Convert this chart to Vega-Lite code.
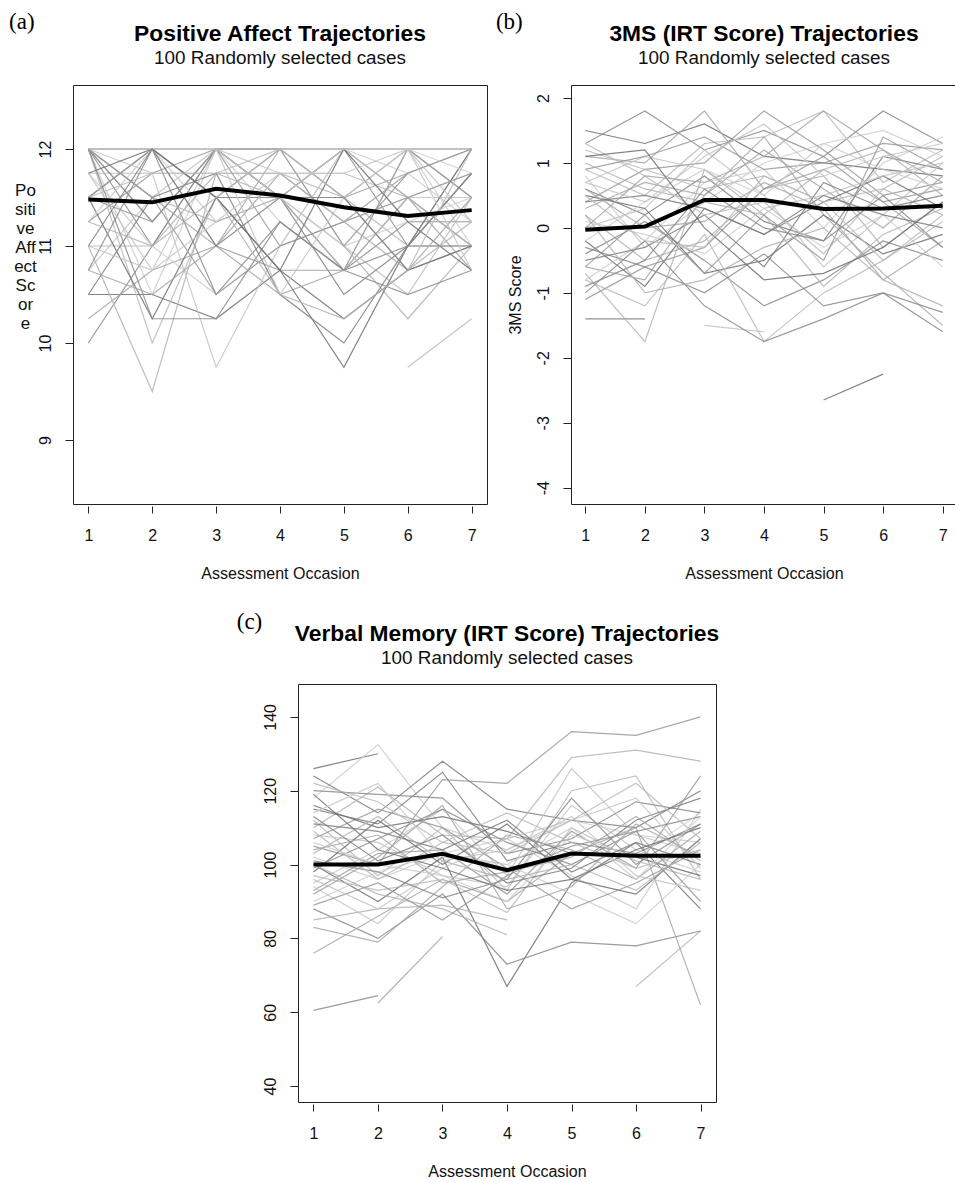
{
"$schema": "https://vega.github.io/schema/vega-lite/v6.json",
"padding": {"left": 8, "top": 10, "right": 0, "bottom": 0},
"background": "white",
"config": {
 "font": "Liberation Sans",
 "view": {"stroke": "#222", "strokeWidth": 1},
 "axis": {"grid": false, "domain": false, "tickColor": "#222", "labelColor": "#111", "titleColor": "#111", "labelFont": "Liberation Sans", "titleFont": "Liberation Sans", "labelFontSize": 16, "titleFontSize": 16, "titleFontWeight": "normal"},
 "title": {"font": "Liberation Sans", "fontSize": 22.8, "fontWeight": "bold", "color": "#000", "subtitleFont": "Liberation Sans", "subtitleFontSize": 18.9, "subtitleColor": "#111", "subtitlePadding": 0, "offset": -57, "anchor": "middle"}
},
"datasets": {
 "pa": [
  {"i":1,"t":1,"v":12},{"i":1,"t":2,"v":12},{"i":1,"t":3,"v":12},{"i":1,"t":4,"v":12},{"i":1,"t":5,"v":12},{"i":1,"t":6,"v":12},{"i":1,"t":7,"v":12},
  {"i":2,"t":1,"v":12},{"i":2,"t":2,"v":11},{"i":2,"t":3,"v":12},{"i":2,"t":4,"v":11.5},{"i":2,"t":5,"v":12},{"i":2,"t":6,"v":11},{"i":2,"t":7,"v":12},
  {"i":3,"t":1,"v":12},{"i":3,"t":2,"v":11.5},{"i":3,"t":3,"v":11},{"i":3,"t":4,"v":12},{"i":3,"t":5,"v":11.5},{"i":3,"t":6,"v":12},{"i":3,"t":7,"v":11.5},
  {"i":4,"t":1,"v":11.75},{"i":4,"t":2,"v":11.75},{"i":4,"t":3,"v":11.75},{"i":4,"t":4,"v":11.75},{"i":4,"t":5,"v":11.75},{"i":4,"t":6,"v":11.5},{"i":4,"t":7,"v":11.75},
  {"i":5,"t":1,"v":12},{"i":5,"t":2,"v":10.5},{"i":5,"t":3,"v":12},{"i":5,"t":4,"v":11.25},{"i":5,"t":5,"v":10.75},{"i":5,"t":6,"v":12},{"i":5,"t":7,"v":11},
  {"i":6,"t":1,"v":11.5},{"i":6,"t":2,"v":12},{"i":6,"t":3,"v":11.5},{"i":6,"t":4,"v":11.5},{"i":6,"t":5,"v":12},{"i":6,"t":6,"v":11.5},{"i":6,"t":7,"v":11},
  {"i":7,"t":1,"v":11.25},{"i":7,"t":2,"v":11.75},{"i":7,"t":3,"v":12},{"i":7,"t":4,"v":11},{"i":7,"t":5,"v":11.25},{"i":7,"t":6,"v":11.75},{"i":7,"t":7,"v":12},
  {"i":8,"t":1,"v":11},{"i":8,"t":2,"v":11},{"i":8,"t":3,"v":11.75},{"i":8,"t":4,"v":11.75},{"i":8,"t":5,"v":11.5},{"i":8,"t":6,"v":11},{"i":8,"t":7,"v":11},
  {"i":9,"t":1,"v":10.75},{"i":9,"t":2,"v":11.5},{"i":9,"t":3,"v":12},{"i":9,"t":4,"v":11.75},{"i":9,"t":5,"v":11.25},{"i":9,"t":6,"v":11.5},{"i":9,"t":7,"v":11.5},
  {"i":10,"t":1,"v":10.5},{"i":10,"t":2,"v":10.5},{"i":10,"t":3,"v":10.25},{"i":10,"t":4,"v":10.75},{"i":10,"t":5,"v":10.25},{"i":10,"t":6,"v":10.75},{"i":10,"t":7,"v":11},
  {"i":11,"t":1,"v":10},{"i":11,"t":2,"v":11},{"i":11,"t":3,"v":12},{"i":11,"t":4,"v":11.5},{"i":11,"t":5,"v":10.75},{"i":11,"t":6,"v":11.25},{"i":11,"t":7,"v":11.25},
  {"i":12,"t":1,"v":10.25},{"i":12,"t":2,"v":10.75},{"i":12,"t":3,"v":11},{"i":12,"t":4,"v":10.5},{"i":12,"t":5,"v":10.75},{"i":12,"t":6,"v":11.5},{"i":12,"t":7,"v":10.75},
  {"i":13,"t":1,"v":12},{"i":13,"t":2,"v":10},{"i":13,"t":3,"v":11.5},{"i":13,"t":4,"v":12},{"i":13,"t":5,"v":11},{"i":13,"t":6,"v":10.5},{"i":13,"t":7,"v":11.5},
  {"i":14,"t":1,"v":11.75},{"i":14,"t":2,"v":11},{"i":14,"t":3,"v":10.5},{"i":14,"t":4,"v":11},{"i":14,"t":5,"v":12},{"i":14,"t":6,"v":11.75},{"i":14,"t":7,"v":11.25},
  {"i":15,"t":1,"v":12},{"i":15,"t":2,"v":11.25},{"i":15,"t":3,"v":12},{"i":15,"t":4,"v":11.5},{"i":15,"t":5,"v":10.5},{"i":15,"t":6,"v":11},{"i":15,"t":7,"v":12},
  {"i":16,"t":1,"v":11.5},{"i":16,"t":2,"v":12},{"i":16,"t":3,"v":11},{"i":16,"t":4,"v":10.75},{"i":16,"t":5,"v":10.75},{"i":16,"t":6,"v":12},{"i":16,"t":7,"v":11.5},
  {"i":17,"t":1,"v":11},{"i":17,"t":2,"v":9.5},{"i":17,"t":3,"v":11.75},{"i":17,"t":4,"v":11.5},{"i":17,"t":5,"v":11},{"i":17,"t":6,"v":10.25},{"i":17,"t":7,"v":11},
  {"i":18,"t":1,"v":12},{"i":18,"t":2,"v":11.75},{"i":18,"t":3,"v":9.75},{"i":18,"t":4,"v":11},{"i":18,"t":5,"v":12},{"i":18,"t":6,"v":11.5},{"i":18,"t":7,"v":11},
  {"i":19,"t":1,"v":11.5},{"i":19,"t":2,"v":10.25},{"i":19,"t":3,"v":11.5},{"i":19,"t":4,"v":10.75},{"i":19,"t":5,"v":9.75},{"i":19,"t":6,"v":11},{"i":19,"t":7,"v":11.75},
  {"i":20,"t":1,"v":10.75},{"i":20,"t":2,"v":12},{"i":20,"t":3,"v":10.5},{"i":20,"t":4,"v":11.25},{"i":20,"t":5,"v":10.75},{"i":20,"t":6,"v":10.5},{"i":20,"t":7,"v":10.75},
  {"i":21,"t":1,"v":12},{"i":21,"t":2,"v":12},{"i":21,"t":3,"v":11.5},{"i":21,"t":4,"v":12},{"i":21,"t":5,"v":11.5},{"i":21,"t":6,"v":11.75},
  {"i":22,"t":6,"v":9.75},{"i":22,"t":7,"v":10.25},
  {"i":23,"t":1,"v":11.25},{"i":23,"t":2,"v":12},{"i":23,"t":3,"v":11.25},{"i":23,"t":4,"v":11.5},{"i":23,"t":5,"v":11},{"i":23,"t":6,"v":11.25},{"i":23,"t":7,"v":11.5},
  {"i":24,"t":1,"v":10.5},{"i":24,"t":2,"v":11.5},{"i":24,"t":3,"v":11.75},{"i":24,"t":4,"v":10.5},{"i":24,"t":5,"v":10},{"i":24,"t":6,"v":11},{"i":24,"t":7,"v":11},
  {"i":25,"t":1,"v":11.5},{"i":25,"t":2,"v":11.25},{"i":25,"t":3,"v":12},{"i":25,"t":4,"v":12},{"i":25,"t":5,"v":11},{"i":25,"t":6,"v":11.75},{"i":25,"t":7,"v":12},
  {"i":26,"t":1,"v":12},{"i":26,"t":2,"v":11.5},{"i":26,"t":3,"v":11.25},{"i":26,"t":4,"v":11.5},{"i":26,"t":5,"v":10.75},{"i":26,"t":6,"v":11.5},{"i":26,"t":7,"v":11},
  {"i":27,"t":1,"v":11},{"i":27,"t":2,"v":10.75},{"i":27,"t":3,"v":12},{"i":27,"t":4,"v":10.5},{"i":27,"t":5,"v":11.5},{"i":27,"t":6,"v":12},{"i":27,"t":7,"v":11.25},
  {"i":28,"t":1,"v":11.75},{"i":28,"t":2,"v":12},{"i":28,"t":3,"v":11.5},{"i":28,"t":4,"v":10.75},{"i":28,"t":5,"v":12},{"i":28,"t":6,"v":11.25},{"i":28,"t":7,"v":10.75},
  {"i":29,"t":1,"v":12},{"i":29,"t":2,"v":10.25},{"i":29,"t":3,"v":10.25},{"i":29,"t":4,"v":11.25},{"i":29,"t":5,"v":10.75},{"i":29,"t":6,"v":11},{"i":29,"t":7,"v":11.75},
  {"i":30,"t":1,"v":10.75},{"i":30,"t":2,"v":10.5},{"i":30,"t":3,"v":11},{"i":30,"t":4,"v":11.75},{"i":30,"t":5,"v":11.25},{"i":30,"t":6,"v":10.75},{"i":30,"t":7,"v":11.5},
  {"i":31,"t":1,"v":11.5},{"i":31,"t":2,"v":11.75},{"i":31,"t":3,"v":11.75},{"i":31,"t":4,"v":12},{"i":31,"t":5,"v":11.5},{"i":31,"t":6,"v":10.75},{"i":31,"t":7,"v":12},
  {"i":32,"t":1,"v":12},{"i":32,"t":2,"v":12},{"i":32,"t":3,"v":12},{"i":32,"t":4,"v":11.5},{"i":32,"t":5,"v":12},{"i":32,"t":6,"v":12},{"i":32,"t":7,"v":11.75},
  {"i":33,"t":1,"v":11},{"i":33,"t":2,"v":12},{"i":33,"t":3,"v":11},{"i":33,"t":4,"v":11.5},{"i":33,"t":5,"v":11.5},{"i":33,"t":6,"v":10.75},{"i":33,"t":7,"v":11},
  {"i":34,"t":1,"v":12},{"i":34,"t":2,"v":11.5},{"i":34,"t":3,"v":10.5},{"i":34,"t":4,"v":11},{"i":34,"t":5,"v":11.25},{"i":34,"t":6,"v":11.5},{"i":34,"t":7,"v":11.75},
  {"i":35,"t":1,"v":11.25},{"i":35,"t":2,"v":11},{"i":35,"t":3,"v":11.5},{"i":35,"t":4,"v":10.5},{"i":35,"t":5,"v":10.25},{"i":35,"t":6,"v":10.75},{"i":35,"t":7,"v":11.25},
  {"i":36,"t":1,"v":11.75},{"i":36,"t":2,"v":10.75},{"i":36,"t":3,"v":11.25},{"i":36,"t":4,"v":11.75},{"i":36,"t":5,"v":11.75},{"i":36,"t":6,"v":12},{"i":36,"t":7,"v":10.75}
 ],
 "pb": [
  {"i":1,"t":1,"v":1.5},{"i":1,"t":2,"v":1.3},{"i":1,"t":3,"v":1.6},{"i":1,"t":4,"v":1.1},{"i":1,"t":5,"v":1.0},{"i":1,"t":6,"v":0.9},{"i":1,"t":7,"v":0.8},
  {"i":2,"t":1,"v":1.3},{"i":2,"t":2,"v":1.8},{"i":2,"t":3,"v":1.2},{"i":2,"t":4,"v":1.5},{"i":2,"t":5,"v":1.1},{"i":2,"t":6,"v":1.8},{"i":2,"t":7,"v":1.3},
  {"i":3,"t":1,"v":1.1},{"i":3,"t":2,"v":1.0},{"i":3,"t":3,"v":1.8},{"i":3,"t":4,"v":0.6},{"i":3,"t":5,"v":0.9},{"i":3,"t":6,"v":0.4},{"i":3,"t":7,"v":-0.3},
  {"i":4,"t":1,"v":0.9},{"i":4,"t":2,"v":0.5},{"i":4,"t":3,"v":1.3},{"i":4,"t":4,"v":1.4},{"i":4,"t":5,"v":1.8},{"i":4,"t":6,"v":0.7},{"i":4,"t":7,"v":1.2},
  {"i":5,"t":1,"v":0.8},{"i":5,"t":2,"v":-0.3},{"i":5,"t":3,"v":0.4},{"i":5,"t":4,"v":1.0},{"i":5,"t":5,"v":1.3},{"i":5,"t":6,"v":1.5},{"i":5,"t":7,"v":1.1},
  {"i":6,"t":1,"v":0.6},{"i":6,"t":2,"v":0.2},{"i":6,"t":3,"v":0.8},{"i":6,"t":4,"v":0.1},{"i":6,"t":5,"v":-0.2},{"i":6,"t":6,"v":1.1},{"i":6,"t":7,"v":0.9},
  {"i":7,"t":1,"v":0.4},{"i":7,"t":2,"v":0.9},{"i":7,"t":3,"v":1.0},{"i":7,"t":4,"v":1.8},{"i":7,"t":5,"v":1.2},{"i":7,"t":6,"v":0.5},{"i":7,"t":7,"v":0.7},
  {"i":8,"t":1,"v":0.2},{"i":8,"t":2,"v":-0.5},{"i":8,"t":3,"v":-0.2},{"i":8,"t":4,"v":0.6},{"i":8,"t":5,"v":0.8},{"i":8,"t":6,"v":-0.3},{"i":8,"t":7,"v":0.4},
  {"i":9,"t":1,"v":0.0},{"i":9,"t":2,"v":0.3},{"i":9,"t":3,"v":1.2},{"i":9,"t":4,"v":0.5},{"i":9,"t":5,"v":-0.6},{"i":9,"t":6,"v":0.2},{"i":9,"t":7,"v":1.0},
  {"i":10,"t":1,"v":-0.2},{"i":10,"t":2,"v":-0.9},{"i":10,"t":3,"v":0.3},{"i":10,"t":4,"v":-0.1},{"i":10,"t":5,"v":0.4},{"i":10,"t":6,"v":0.8},{"i":10,"t":7,"v":0.3},
  {"i":11,"t":1,"v":-0.4},{"i":11,"t":2,"v":0.1},{"i":11,"t":3,"v":-0.5},{"i":11,"t":4,"v":-1.2},{"i":11,"t":5,"v":-0.8},{"i":11,"t":6,"v":-0.2},{"i":11,"t":7,"v":-0.5},
  {"i":12,"t":1,"v":-0.6},{"i":12,"t":2,"v":-0.8},{"i":12,"t":3,"v":0.5},{"i":12,"t":4,"v":1.4},{"i":12,"t":5,"v":0.2},{"i":12,"t":6,"v":-0.7},{"i":12,"t":7,"v":-1.5},
  {"i":13,"t":1,"v":-0.8},{"i":13,"t":2,"v":-1.2},{"i":13,"t":3,"v":-0.1},{"i":13,"t":4,"v":-1.75},{"i":13,"t":5,"v":-1.0},{"i":13,"t":6,"v":-0.5},{"i":13,"t":7,"v":0.2},
  {"i":14,"t":1,"v":-0.8},{"i":14,"t":2,"v":-0.2},{"i":14,"t":3,"v":0.7},{"i":14,"t":4,"v":0.9},{"i":14,"t":5,"v":0.0},{"i":14,"t":6,"v":1.0},{"i":14,"t":7,"v":1.4},
  {"i":15,"t":1,"v":-1.4},{"i":15,"t":2,"v":-1.4},
  {"i":16,"t":1,"v":-1.1},{"i":16,"t":2,"v":-0.6},{"i":16,"t":3,"v":-0.3},{"i":16,"t":4,"v":0.6},{"i":16,"t":5,"v":1.1},{"i":16,"t":6,"v":0.4},{"i":16,"t":7,"v":0.6},
  {"i":17,"t":1,"v":1.0},{"i":17,"t":2,"v":0.6},{"i":17,"t":3,"v":0.4},{"i":17,"t":4,"v":0.2},{"i":17,"t":5,"v":0.9},{"i":17,"t":6,"v":1.2},{"i":17,"t":7,"v":0.5},
  {"i":18,"t":1,"v":0.7},{"i":18,"t":2,"v":1.1},{"i":18,"t":3,"v":0.9},{"i":18,"t":4,"v":0.3},{"i":18,"t":5,"v":0.5},{"i":18,"t":6,"v":0.8},{"i":18,"t":7,"v":1.0},
  {"i":19,"t":1,"v":0.5},{"i":19,"t":2,"v":0.3},{"i":19,"t":3,"v":-0.7},{"i":19,"t":4,"v":-0.5},{"i":19,"t":5,"v":0.2},{"i":19,"t":6,"v":-0.4},{"i":19,"t":7,"v":-0.1},
  {"i":20,"t":1,"v":-0.3},{"i":20,"t":2,"v":-0.6},{"i":20,"t":3,"v":-1.0},{"i":20,"t":4,"v":-0.4},{"i":20,"t":5,"v":-1.2},{"i":20,"t":6,"v":-1.0},{"i":20,"t":7,"v":-1.3},
  {"i":21,"t":1,"v":0.3},{"i":21,"t":2,"v":0.7},{"i":21,"t":3,"v":0.5},{"i":21,"t":4,"v":1.2},{"i":21,"t":5,"v":0.6},{"i":21,"t":6,"v":0.0},{"i":21,"t":7,"v":0.8},
  {"i":22,"t":1,"v":1.2},{"i":22,"t":2,"v":0.9},{"i":22,"t":3,"v":0.6},{"i":22,"t":4,"v":0.8},{"i":22,"t":5,"v":0.4},{"i":22,"t":6,"v":0.6},{"i":22,"t":7,"v":0.2},
  {"i":23,"t":1,"v":0.1},{"i":23,"t":2,"v":-0.1},{"i":23,"t":3,"v":-0.4},{"i":23,"t":4,"v":0.3},{"i":23,"t":5,"v":-0.3},{"i":23,"t":6,"v":0.2},{"i":23,"t":7,"v":-0.6},
  {"i":24,"t":1,"v":-0.5},{"i":24,"t":2,"v":-0.3},{"i":24,"t":3,"v":0.2},{"i":24,"t":4,"v":-0.6},{"i":24,"t":5,"v":0.7},{"i":24,"t":6,"v":0.3},{"i":24,"t":7,"v":0.5},
  {"i":25,"t":1,"v":0.9},{"i":25,"t":2,"v":1.1},{"i":25,"t":3,"v":1.4},{"i":25,"t":4,"v":0.9},{"i":25,"t":5,"v":1.0},{"i":25,"t":6,"v":1.3},{"i":25,"t":7,"v":1.2},
  {"i":26,"t":1,"v":-0.7},{"i":26,"t":2,"v":-1.75},{"i":26,"t":3,"v":0.9},{"i":26,"t":4,"v":0.2},{"i":26,"t":5,"v":-0.9},{"i":26,"t":6,"v":-0.1},{"i":26,"t":7,"v":0.3},
  {"i":27,"t":3,"v":-1.5},{"i":27,"t":4,"v":-1.6},
  {"i":28,"t":5,"v":-2.65},{"i":28,"t":6,"v":-2.25},
  {"i":29,"t":1,"v":-1.0},{"i":29,"t":2,"v":-0.2},{"i":29,"t":3,"v":-1.2},{"i":29,"t":4,"v":-1.75},{"i":29,"t":5,"v":-1.4},{"i":29,"t":6,"v":-1.0},{"i":29,"t":7,"v":-1.6},
  {"i":30,"t":1,"v":0.6},{"i":30,"t":2,"v":0.0},{"i":30,"t":3,"v":0.1},{"i":30,"t":4,"v":0.7},{"i":30,"t":5,"v":0.3},{"i":30,"t":6,"v":-0.8},{"i":30,"t":7,"v":-0.2},
  {"i":31,"t":1,"v":1.3},{"i":31,"t":2,"v":0.8},{"i":31,"t":3,"v":0.2},{"i":31,"t":4,"v":0.4},{"i":31,"t":5,"v":-0.4},{"i":31,"t":6,"v":0.6},{"i":31,"t":7,"v":1.1},
  {"i":32,"t":1,"v":-0.2},{"i":32,"t":2,"v":0.4},{"i":32,"t":3,"v":0.9},{"i":32,"t":4,"v":0.5},{"i":32,"t":5,"v":1.3},{"i":32,"t":6,"v":0.9},{"i":32,"t":7,"v":0.6},
  {"i":33,"t":1,"v":0.4},{"i":33,"t":2,"v":0.5},{"i":33,"t":3,"v":0.3},{"i":33,"t":4,"v":-0.1},{"i":33,"t":5,"v":0.5},{"i":33,"t":6,"v":0.2},{"i":33,"t":7,"v":0.0},
  {"i":34,"t":1,"v":-0.6},{"i":34,"t":2,"v":0.2},{"i":34,"t":3,"v":-0.7},{"i":34,"t":4,"v":0.2},{"i":34,"t":5,"v":-0.5},{"i":34,"t":6,"v":1.4},{"i":34,"t":7,"v":0.9},
  {"i":35,"t":1,"v":0.2},{"i":35,"t":2,"v":-1.0},{"i":35,"t":3,"v":-0.8},{"i":35,"t":4,"v":-0.3},{"i":35,"t":5,"v":0.0},{"i":35,"t":6,"v":-0.8},{"i":35,"t":7,"v":-1.2},
  {"i":36,"t":1,"v":0.7},{"i":36,"t":2,"v":0.4},{"i":36,"t":3,"v":1.1},{"i":36,"t":4,"v":1.6},{"i":36,"t":5,"v":0.8},{"i":36,"t":6,"v":1.1},{"i":36,"t":7,"v":1.3},
  {"i":37,"t":1,"v":1.1},{"i":37,"t":2,"v":1.2},{"i":37,"t":3,"v":0.0},{"i":37,"t":4,"v":-0.8},{"i":37,"t":5,"v":-0.7},{"i":37,"t":6,"v":-0.3},{"i":37,"t":7,"v":0.4},
  {"i":38,"t":1,"v":-0.9},{"i":38,"t":2,"v":-0.5},{"i":38,"t":3,"v":0.6},{"i":38,"t":4,"v":0.0},{"i":38,"t":5,"v":-0.2},{"i":38,"t":6,"v":0.5},{"i":38,"t":7,"v":-0.3},
  {"i":39,"t":1,"v":0.0},{"i":39,"t":2,"v":0.8},{"i":39,"t":3,"v":0.7},{"i":39,"t":4,"v":1.1},{"i":39,"t":5,"v":1.8},{"i":39,"t":6,"v":1.2},{"i":39,"t":7,"v":0.7},
  {"i":40,"t":1,"v":0.5},{"i":40,"t":2,"v":-0.2},{"i":40,"t":3,"v":-0.3},{"i":40,"t":4,"v":0.8},{"i":40,"t":5,"v":0.4},{"i":40,"t":6,"v":-0.5},{"i":40,"t":7,"v":0.1}
 ],
 "pc": [
  {"i":1,"t":1,"v":126},{"i":1,"t":2,"v":130},
  {"i":2,"t":1,"v":60.5},{"i":2,"t":2,"v":64.5},
  {"i":3,"t":2,"v":62.5},{"i":3,"t":3,"v":80.5},
  {"i":4,"t":6,"v":67},{"i":4,"t":7,"v":82},
  {"i":5,"t":1,"v":118},{"i":5,"t":2,"v":132.5},{"i":5,"t":3,"v":110},{"i":5,"t":4,"v":104},{"i":5,"t":5,"v":112},{"i":5,"t":6,"v":108},{"i":5,"t":7,"v":106},
  {"i":6,"t":1,"v":124},{"i":6,"t":2,"v":114},{"i":6,"t":3,"v":128},{"i":6,"t":4,"v":115},{"i":6,"t":5,"v":112},{"i":6,"t":6,"v":110},{"i":6,"t":7,"v":120},
  {"i":7,"t":1,"v":105},{"i":7,"t":2,"v":100},{"i":7,"t":3,"v":123},{"i":7,"t":4,"v":122},{"i":7,"t":5,"v":136},{"i":7,"t":6,"v":135},{"i":7,"t":7,"v":140},
  {"i":8,"t":1,"v":110},{"i":8,"t":2,"v":121},{"i":8,"t":3,"v":108},{"i":8,"t":4,"v":107},{"i":8,"t":5,"v":129},{"i":8,"t":6,"v":131},{"i":8,"t":7,"v":128},
  {"i":9,"t":1,"v":95},{"i":9,"t":2,"v":104},{"i":9,"t":3,"v":115},{"i":9,"t":4,"v":97},{"i":9,"t":5,"v":126},{"i":9,"t":6,"v":108},{"i":9,"t":7,"v":103},
  {"i":10,"t":1,"v":100},{"i":10,"t":2,"v":90},{"i":10,"t":3,"v":102},{"i":10,"t":4,"v":67},{"i":10,"t":5,"v":95},{"i":10,"t":6,"v":106},{"i":10,"t":7,"v":88},
  {"i":11,"t":1,"v":88},{"i":11,"t":2,"v":80},{"i":11,"t":3,"v":92},{"i":11,"t":4,"v":73},{"i":11,"t":5,"v":79},{"i":11,"t":6,"v":78},{"i":11,"t":7,"v":82},
  {"i":12,"t":1,"v":76},{"i":12,"t":2,"v":86},{"i":12,"t":3,"v":96},{"i":12,"t":4,"v":90},{"i":12,"t":5,"v":103},{"i":12,"t":6,"v":110},{"i":12,"t":7,"v":62},
  {"i":13,"t":1,"v":112},{"i":13,"t":2,"v":97},{"i":13,"t":3,"v":110},{"i":13,"t":4,"v":93},{"i":13,"t":5,"v":120},{"i":13,"t":6,"v":124},{"i":13,"t":7,"v":96},
  {"i":14,"t":1,"v":102},{"i":14,"t":2,"v":96},{"i":14,"t":3,"v":103},{"i":14,"t":4,"v":107},{"i":14,"t":5,"v":97},{"i":14,"t":6,"v":88},{"i":14,"t":7,"v":115},
  {"i":15,"t":1,"v":115},{"i":15,"t":2,"v":111},{"i":15,"t":3,"v":125},{"i":15,"t":4,"v":101},{"i":15,"t":5,"v":106},{"i":15,"t":6,"v":103},{"i":15,"t":7,"v":111},
  {"i":16,"t":1,"v":93},{"i":16,"t":2,"v":103},{"i":16,"t":3,"v":104},{"i":16,"t":4,"v":92},{"i":16,"t":5,"v":109},{"i":16,"t":6,"v":99},{"i":16,"t":7,"v":124},
  {"i":17,"t":1,"v":85},{"i":17,"t":2,"v":88},{"i":17,"t":3,"v":89},{"i":17,"t":4,"v":85},
  {"i":18,"t":1,"v":108},{"i":18,"t":2,"v":106},{"i":18,"t":3,"v":97},{"i":18,"t":4,"v":94},{"i":18,"t":5,"v":116},{"i":18,"t":6,"v":104},{"i":18,"t":7,"v":98},
  {"i":19,"t":1,"v":98},{"i":19,"t":2,"v":112},{"i":19,"t":3,"v":100},{"i":19,"t":4,"v":111},{"i":19,"t":5,"v":96},{"i":19,"t":6,"v":92},{"i":19,"t":7,"v":107},
  {"i":20,"t":1,"v":120},{"i":20,"t":2,"v":119},{"i":20,"t":3,"v":118},{"i":20,"t":4,"v":103},{"i":20,"t":5,"v":107},{"i":20,"t":6,"v":117},{"i":20,"t":7,"v":114},
  {"i":21,"t":1,"v":104},{"i":21,"t":2,"v":108},{"i":21,"t":3,"v":95},{"i":21,"t":4,"v":98},{"i":21,"t":5,"v":102},{"i":21,"t":6,"v":113},{"i":21,"t":7,"v":101},
  {"i":22,"t":1,"v":97},{"i":22,"t":2,"v":93},{"i":22,"t":3,"v":96},{"i":22,"t":4,"v":87},{"i":22,"t":5,"v":110},{"i":22,"t":6,"v":101},{"i":22,"t":7,"v":96},
  {"i":23,"t":1,"v":90},{"i":23,"t":2,"v":98},{"i":23,"t":3,"v":103},{"i":23,"t":4,"v":100},{"i":23,"t":5,"v":92},{"i":23,"t":6,"v":84},{"i":23,"t":7,"v":100},
  {"i":24,"t":1,"v":113},{"i":24,"t":2,"v":101},{"i":24,"t":3,"v":108},{"i":24,"t":4,"v":95},{"i":24,"t":5,"v":99},{"i":24,"t":6,"v":112},{"i":24,"t":7,"v":118},
  {"i":25,"t":1,"v":107},{"i":25,"t":2,"v":115},{"i":25,"t":3,"v":110},{"i":25,"t":4,"v":99},{"i":25,"t":5,"v":88},{"i":25,"t":6,"v":95},{"i":25,"t":7,"v":104},
  {"i":26,"t":1,"v":100},{"i":26,"t":2,"v":92},{"i":26,"t":3,"v":88},{"i":26,"t":4,"v":81},
  {"i":27,"t":1,"v":94},{"i":27,"t":2,"v":84},{"i":27,"t":3,"v":101},{"i":27,"t":4,"v":104},{"i":27,"t":5,"v":113},{"i":27,"t":6,"v":97},{"i":27,"t":7,"v":93},
  {"i":28,"t":1,"v":116},{"i":28,"t":2,"v":110},{"i":28,"t":3,"v":113},{"i":28,"t":4,"v":109},{"i":28,"t":5,"v":103},{"i":28,"t":6,"v":102},{"i":28,"t":7,"v":97},
  {"i":29,"t":1,"v":99},{"i":29,"t":2,"v":107},{"i":29,"t":3,"v":115},{"i":29,"t":4,"v":106},{"i":29,"t":5,"v":100},{"i":29,"t":6,"v":109},{"i":29,"t":7,"v":113},
  {"i":30,"t":1,"v":83},{"i":30,"t":2,"v":79},{"i":30,"t":3,"v":94},{"i":30,"t":4,"v":108},{"i":30,"t":5,"v":104},{"i":30,"t":6,"v":96},{"i":30,"t":7,"v":109},
  {"i":31,"t":1,"v":122},{"i":31,"t":2,"v":117},{"i":31,"t":3,"v":106},{"i":31,"t":4,"v":103},{"i":31,"t":5,"v":112},{"i":31,"t":6,"v":122},{"i":31,"t":7,"v":107},
  {"i":32,"t":1,"v":106},{"i":32,"t":2,"v":100},{"i":32,"t":3,"v":97},{"i":32,"t":4,"v":90},{"i":32,"t":5,"v":108},{"i":32,"t":6,"v":102},{"i":32,"t":7,"v":114},
  {"i":33,"t":1,"v":111},{"i":33,"t":2,"v":109},{"i":33,"t":3,"v":104},{"i":33,"t":4,"v":112},{"i":33,"t":5,"v":98},{"i":33,"t":6,"v":106},{"i":33,"t":7,"v":100},
  {"i":34,"t":1,"v":89},{"i":34,"t":2,"v":95},{"i":34,"t":3,"v":85},{"i":34,"t":4,"v":97},{"i":34,"t":5,"v":105},{"i":34,"t":6,"v":109},{"i":34,"t":7,"v":90},
  {"i":35,"t":1,"v":103},{"i":35,"t":2,"v":113},{"i":35,"t":3,"v":101},{"i":35,"t":4,"v":96},{"i":35,"t":5,"v":100},{"i":35,"t":6,"v":93},{"i":35,"t":7,"v":106},
  {"i":36,"t":1,"v":96},{"i":36,"t":2,"v":88},{"i":36,"t":3,"v":99},{"i":36,"t":4,"v":107},{"i":36,"t":5,"v":112},{"i":36,"t":6,"v":118},{"i":36,"t":7,"v":99},
  {"i":37,"t":1,"v":119},{"i":37,"t":2,"v":104},{"i":37,"t":3,"v":99},{"i":37,"t":4,"v":93},{"i":37,"t":5,"v":96},{"i":37,"t":6,"v":104},{"i":37,"t":7,"v":110},
  {"i":38,"t":1,"v":101},{"i":38,"t":2,"v":98},{"i":38,"t":3,"v":91},{"i":38,"t":4,"v":96},{"i":38,"t":5,"v":118},{"i":38,"t":6,"v":100},{"i":38,"t":7,"v":111},
  {"i":39,"t":1,"v":92},{"i":39,"t":2,"v":102},{"i":39,"t":3,"v":116},{"i":39,"t":4,"v":88},{"i":39,"t":5,"v":94},{"i":39,"t":6,"v":111},{"i":39,"t":7,"v":102},
  {"i":40,"t":1,"v":109},{"i":40,"t":2,"v":96},{"i":40,"t":3,"v":106},{"i":40,"t":4,"v":114},{"i":40,"t":5,"v":106},{"i":40,"t":6,"v":99},{"i":40,"t":7,"v":104},
  {"i":41,"t":1,"v":114},{"i":41,"t":2,"v":122},{"i":41,"t":3,"v":102},{"i":41,"t":4,"v":100},{"i":41,"t":5,"v":110},{"i":41,"t":6,"v":96},{"i":41,"t":7,"v":113}
 ],
 "ma": [{"t":1,"v":11.48},{"t":2,"v":11.45},{"t":3,"v":11.59},{"t":4,"v":11.52},{"t":5,"v":11.4},{"t":6,"v":11.31},{"t":7,"v":11.37}],
 "mb": [{"t":1,"v":-0.03},{"t":2,"v":0.02},{"t":3,"v":0.43},{"t":4,"v":0.43},{"t":5,"v":0.29},{"t":6,"v":0.3},{"t":7,"v":0.34}],
 "mc": [{"t":1,"v":100},{"t":2,"v":100},{"t":3,"v":102.9},{"t":4,"v":98.5},{"t":5,"v":103},{"t":6,"v":102.4},{"t":7,"v":102.4}]
},
"spacing": 28,
"vconcat": [
 {"hconcat": [
  {"width": 414, "height": 419,
   "title": {"text": "Positive Affect Trajectories", "subtitle": "100 Randomly selected cases"},
   "layer": [
    {"data": {"name": "pa"}, "mark": {"type": "line", "strokeWidth": 1.2, "opacity": 0.85},
     "encoding": {
      "x": {"field": "t", "type": "quantitative", "scale": {"domain": [0.76, 7.24], "nice": false, "zero": false},
            "axis": {"values": [1,2,3,4,5,6,7], "format": "d", "tickSize": 7, "offset": 2, "labelPadding": 14, "labelAngle": 0, "title": "Assessment Occasion", "titlePadding": 22}},
      "y": {"field": "v", "type": "quantitative", "scale": {"domain": [8.34, 12.66], "nice": false, "zero": false},
            "axis": {"values": [9,10,11,12], "labelExpr": "datum.value + ''", "labelAngle": 270, "tickSize": 8, "labelPadding": 12,
                     "title": ["Po","siti","ve","Aff","ect","Sc","or","e"], "titleAngle": 0, "titleAlign": "center", "titleBaseline": "top", "titleX": -48, "titleY": 97, "titleLineHeight": 19, "titleFontSize": 17}},
      "detail": {"field": "i", "type": "nominal"},
      "color": {"field": "i", "type": "nominal", "legend": null, "scale": {"range": ["#6e6e6e","#8a8a8a","#a6a6a6","#bababa","#cdcdcd","#7d7d7d","#999999","#b2b2b2","#c4c4c4"]}}
     }},
    {"data": {"name": "ma"}, "mark": {"type": "line", "color": "#000", "strokeWidth": 4},
     "encoding": {"x": {"field": "t", "type": "quantitative"}, "y": {"field": "v", "type": "quantitative"}}},
    {"data": {"values": [{}]}, "mark": {"type": "text", "font": "Liberation Serif", "fontSize": 23, "align": "left", "baseline": "middle", "clip": false, "color": "#000"},
     "encoding": {"x": {"datum": -0.24, "type": "quantitative"}, "y": {"datum": 13.31, "type": "quantitative"}, "text": {"value": "(a)"}}}
   ]},
  {"width": 386, "height": 419,
   "title": {"text": "3MS (IRT Score) Trajectories", "subtitle": "100 Randomly selected cases"},
   "layer": [
    {"data": {"name": "pb"}, "mark": {"type": "line", "strokeWidth": 1.2, "opacity": 0.85},
     "encoding": {
      "x": {"field": "t", "type": "quantitative", "scale": {"domain": [0.76, 7.24], "nice": false, "zero": false},
            "axis": {"values": [1,2,3,4,5,6,7], "format": "d", "tickSize": 7, "offset": 2, "labelPadding": 14, "labelAngle": 0, "title": "Assessment Occasion", "titlePadding": 22}},
      "y": {"field": "v", "type": "quantitative", "scale": {"domain": [-4.25, 2.2], "nice": false, "zero": false},
            "axis": {"values": [-4,-3,-2,-1,0,1,2], "labelExpr": "datum.value + ''", "labelAngle": 270, "tickSize": 8, "labelPadding": 12, "title": "3MS Score", "titlePadding": 12}},
      "detail": {"field": "i", "type": "nominal"},
      "color": {"field": "i", "type": "nominal", "legend": null, "scale": {"range": ["#6e6e6e","#8a8a8a","#a6a6a6","#bababa","#cdcdcd","#7d7d7d","#999999","#b2b2b2","#c4c4c4"]}}
     }},
    {"data": {"name": "mb"}, "mark": {"type": "line", "color": "#000", "strokeWidth": 4},
     "encoding": {"x": {"field": "t", "type": "quantitative"}, "y": {"field": "v", "type": "quantitative"}}},
    {"data": {"values": [{}]}, "mark": {"type": "text", "font": "Liberation Serif", "fontSize": 23, "align": "left", "baseline": "middle", "clip": false, "color": "#000"},
     "encoding": {"x": {"datum": -0.5, "type": "quantitative"}, "y": {"datum": 3.17, "type": "quantitative"}, "text": {"value": "(b)"}}}
   ]}
 ], "spacing": 7},
 {"hconcat": [
  {"width": 163, "height": 10, "view": {"stroke": null}, "data": {"values": []}, "mark": "point"},
  {"width": 418, "height": 418,
   "title": {"text": "Verbal Memory (IRT Score) Trajectories", "subtitle": "100 Randomly selected cases"},
   "layer": [
    {"data": {"name": "pc"}, "mark": {"type": "line", "strokeWidth": 1.2, "opacity": 0.85},
     "encoding": {
      "x": {"field": "t", "type": "quantitative", "scale": {"domain": [0.76, 7.24], "nice": false, "zero": false},
            "axis": {"values": [1,2,3,4,5,6,7], "format": "d", "tickSize": 7, "offset": 2, "labelPadding": 14, "labelAngle": 0, "title": "Assessment Occasion", "titlePadding": 22}},
      "y": {"field": "v", "type": "quantitative", "scale": {"domain": [35.7, 148.9], "nice": false, "zero": false},
            "axis": {"values": [40,60,80,100,120,140], "labelExpr": "datum.value + ''", "labelAngle": 270, "tickSize": 8, "labelPadding": 12, "title": null}},
      "detail": {"field": "i", "type": "nominal"},
      "color": {"field": "i", "type": "nominal", "legend": null, "scale": {"range": ["#6e6e6e","#8a8a8a","#a6a6a6","#bababa","#cdcdcd","#7d7d7d","#999999","#b2b2b2","#c4c4c4"]}}
     }},
    {"data": {"name": "mc"}, "mark": {"type": "line", "color": "#000", "strokeWidth": 4},
     "encoding": {"x": {"field": "t", "type": "quantitative"}, "y": {"field": "v", "type": "quantitative"}}},
    {"data": {"values": [{}]}, "mark": {"type": "text", "font": "Liberation Serif", "fontSize": 23, "align": "left", "baseline": "middle", "clip": false, "color": "#000"},
     "encoding": {"x": {"datum": -0.19, "type": "quantitative"}, "y": {"datum": 165.7, "type": "quantitative"}, "text": {"value": "(c)"}}}
   ]}
 ], "spacing": 0}
]
}
